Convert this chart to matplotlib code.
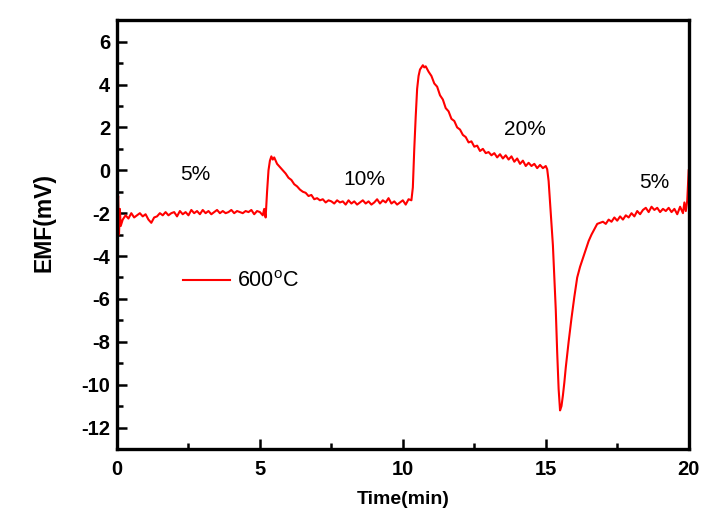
import matplotlib
matplotlib.use('Agg')
import matplotlib.pyplot as plt

# EMF trace at 600 C
t_5a = [0, 0.04, 0.07, 0.1, 0.13, 0.2, 0.3, 0.4, 0.5, 0.6, 0.7, 0.8, 0.9, 1.0,
        1.1, 1.2, 1.3, 1.4, 1.5, 1.6, 1.7, 1.8, 1.9, 2.0, 2.1, 2.2, 2.3, 2.4,
        2.5, 2.6, 2.7, 2.8, 2.9, 3.0, 3.1, 3.2, 3.3, 3.4, 3.5, 3.6, 3.7, 3.8,
        3.9, 4.0, 4.1, 4.2, 4.3, 4.4, 4.5, 4.6, 4.7, 4.8, 4.9, 5.0, 5.1, 5.15, 5.2]
e_5a = [-2.0, -1.2, -3.0, -1.8, -2.6, -2.3, -2.1, -2.25, -2.0, -2.2, -2.1, -2.0, -2.15, -2.05,
        -2.3, -2.45, -2.2, -2.15, -2.0, -2.1, -1.95, -2.1, -2.0, -1.95, -2.15, -1.9, -2.05, -1.95,
        -2.1, -1.85, -2.0, -1.9, -2.05, -1.85, -2.0, -1.9, -2.05, -1.95, -1.85, -2.0, -1.9, -2.0,
        -1.95, -1.85, -2.0, -1.9, -1.95, -2.0, -1.9, -1.95, -1.85, -2.05, -1.9, -1.95, -2.1, -1.8, -2.2]

t_10 = [5.25, 5.3, 5.35, 5.4, 5.45, 5.5, 5.6, 5.7, 5.8, 5.9, 6.0, 6.1, 6.2, 6.3,
        6.4, 6.5, 6.6, 6.7, 6.8, 6.9, 7.0, 7.1, 7.2, 7.3, 7.4, 7.5, 7.6, 7.7,
        7.8, 7.9, 8.0, 8.1, 8.2, 8.3, 8.4, 8.5, 8.6, 8.7, 8.8, 8.9, 9.0, 9.1,
        9.2, 9.3, 9.4, 9.5, 9.6, 9.7, 9.8, 9.9, 10.0, 10.1, 10.2, 10.3]
e_10 = [-1.0, 0.0, 0.45, 0.65, 0.5, 0.6, 0.3, 0.15, 0.0, -0.15, -0.35, -0.45, -0.65, -0.75,
        -0.9, -1.0, -1.05, -1.2, -1.15, -1.35, -1.3, -1.4, -1.35, -1.5, -1.4, -1.45, -1.55, -1.4,
        -1.5, -1.45, -1.6, -1.4, -1.55, -1.45, -1.6, -1.5, -1.4, -1.55, -1.45, -1.6, -1.5, -1.35,
        -1.55, -1.4, -1.5, -1.3, -1.55, -1.45, -1.6, -1.5, -1.4, -1.6, -1.35, -1.4]

t_20 = [10.35, 10.4, 10.45, 10.5, 10.55, 10.6, 10.7, 10.75, 10.8, 10.9, 11.0, 11.1, 11.2, 11.3,
        11.4, 11.5, 11.6, 11.7, 11.8, 11.9, 12.0, 12.1, 12.2, 12.3, 12.4, 12.5, 12.6, 12.7,
        12.8, 12.9, 13.0, 13.1, 13.2, 13.3, 13.4, 13.5, 13.6, 13.7, 13.8, 13.9, 14.0, 14.1,
        14.2, 14.3, 14.4, 14.5, 14.6, 14.7, 14.8, 14.9, 15.0, 15.05]
e_20 = [-0.8, 1.0, 2.5, 3.8, 4.4, 4.7, 4.9, 4.8, 4.85, 4.6, 4.4, 4.05, 3.9, 3.5,
        3.3, 2.9, 2.75, 2.4, 2.3, 2.0, 1.9, 1.65, 1.55, 1.3, 1.35, 1.1, 1.15, 0.9,
        1.0, 0.8, 0.85, 0.7, 0.8, 0.6, 0.75, 0.55, 0.7, 0.5, 0.65, 0.4, 0.55, 0.3,
        0.45, 0.2, 0.35, 0.2, 0.3, 0.1, 0.25, 0.1, 0.2, 0.05]

t_5b = [15.1, 15.15, 15.2, 15.25, 15.3, 15.35, 15.4, 15.45, 15.5, 15.55, 15.6, 15.65, 15.7, 15.8,
        15.9, 16.0, 16.1, 16.2, 16.3, 16.4, 16.5, 16.6, 16.7, 16.8, 16.9, 17.0, 17.1, 17.2,
        17.3, 17.4, 17.5, 17.6, 17.7, 17.8, 17.9, 18.0, 18.1, 18.2, 18.3, 18.4, 18.5, 18.6,
        18.7, 18.8, 18.9, 19.0, 19.1, 19.2, 19.3, 19.4, 19.5, 19.6, 19.7, 19.8, 19.85, 19.9,
        19.95, 20.0]
e_5b = [-0.5, -1.5, -2.5, -3.5, -5.0, -6.5, -8.5, -10.2, -11.2, -11.0, -10.5, -9.9, -9.2, -8.0,
        -6.9, -5.9, -5.0, -4.5, -4.1, -3.7, -3.3, -3.0, -2.75, -2.5, -2.45, -2.4, -2.5, -2.3,
        -2.4, -2.2, -2.35, -2.15, -2.3, -2.1, -2.2, -2.0, -2.15, -1.9, -2.05, -1.85, -1.75, -1.95,
        -1.7, -1.85, -1.75, -1.95, -1.8, -1.9, -1.75, -1.95, -1.8, -2.05, -1.7, -2.0, -1.5, -1.9,
        -1.4, 0.0]

time = t_5a + t_10 + t_20 + t_5b
emf = e_5a + e_10 + e_20 + e_5b

labels = ['5%', '10%', '20%', '5%']
label_x = [2.73, 8.67, 14.27, 18.81]
label_y = [-0.2, -0.43, 1.88, -0.57]


def main():
    plt.rcParams['font.family'] = ['Liberation Sans', 'DejaVu Sans']
    plt.rcParams['mathtext.fontset'] = 'custom'
    plt.rcParams['mathtext.rm'] = 'Liberation Sans'
    plt.rcParams['axes.unicode_minus'] = False

    fig = plt.figure(figsize=(7.2, 5.32), dpi=100)
    ax = fig.add_axes([0.1625, 0.156, 0.794, 0.806])

    ax.plot(time, emf, color='#ff0000', lw=1.5, label='600$^{\\mathrm{o}}$C')

    for s, x, y in zip(labels, label_x, label_y):
        ax.text(x, y, s, fontsize=15, ha='center', va='center')

    ax.set_xlim(0, 20)
    ax.set_ylim(-13, 7)
    ax.set_xticks([0, 5, 10, 15, 20])
    ax.set_xticks([2.5, 7.5, 12.5, 17.5], minor=True)
    ax.set_yticks(range(-12, 7, 2))
    ax.set_yticks(range(-11, 7, 2), minor=True)

    for sp in ax.spines.values():
        sp.set_linewidth(2.4)
    ax.tick_params(which='both', direction='in', top=False, right=False, width=1.8)
    ax.tick_params(which='major', length=7, labelsize=14.5)
    ax.tick_params(axis='x', which='major', pad=8)
    ax.tick_params(axis='y', which='major', pad=5)
    ax.tick_params(which='minor', length=4)
    for lab in ax.get_xticklabels() + ax.get_yticklabels():
        lab.set_fontweight('bold')

    ax.set_xlabel('Time(min)', fontsize=14, fontweight='bold')
    ax.set_ylabel('EMF(mV)', fontsize=16.5, fontweight='bold')
    ax.xaxis.set_label_coords(0.5, -0.098)
    ax.yaxis.set_label_coords(-0.107, 0.529)

    ax.legend(frameon=False, loc='center left', bbox_to_anchor=(0.115, 0.39),
              borderpad=0, borderaxespad=0, handlelength=2.2, handletextpad=0.3,
              prop={'size': 15.5})

    fig.savefig('out.png', dpi=100)


if __name__ == '__main__':
    main()
